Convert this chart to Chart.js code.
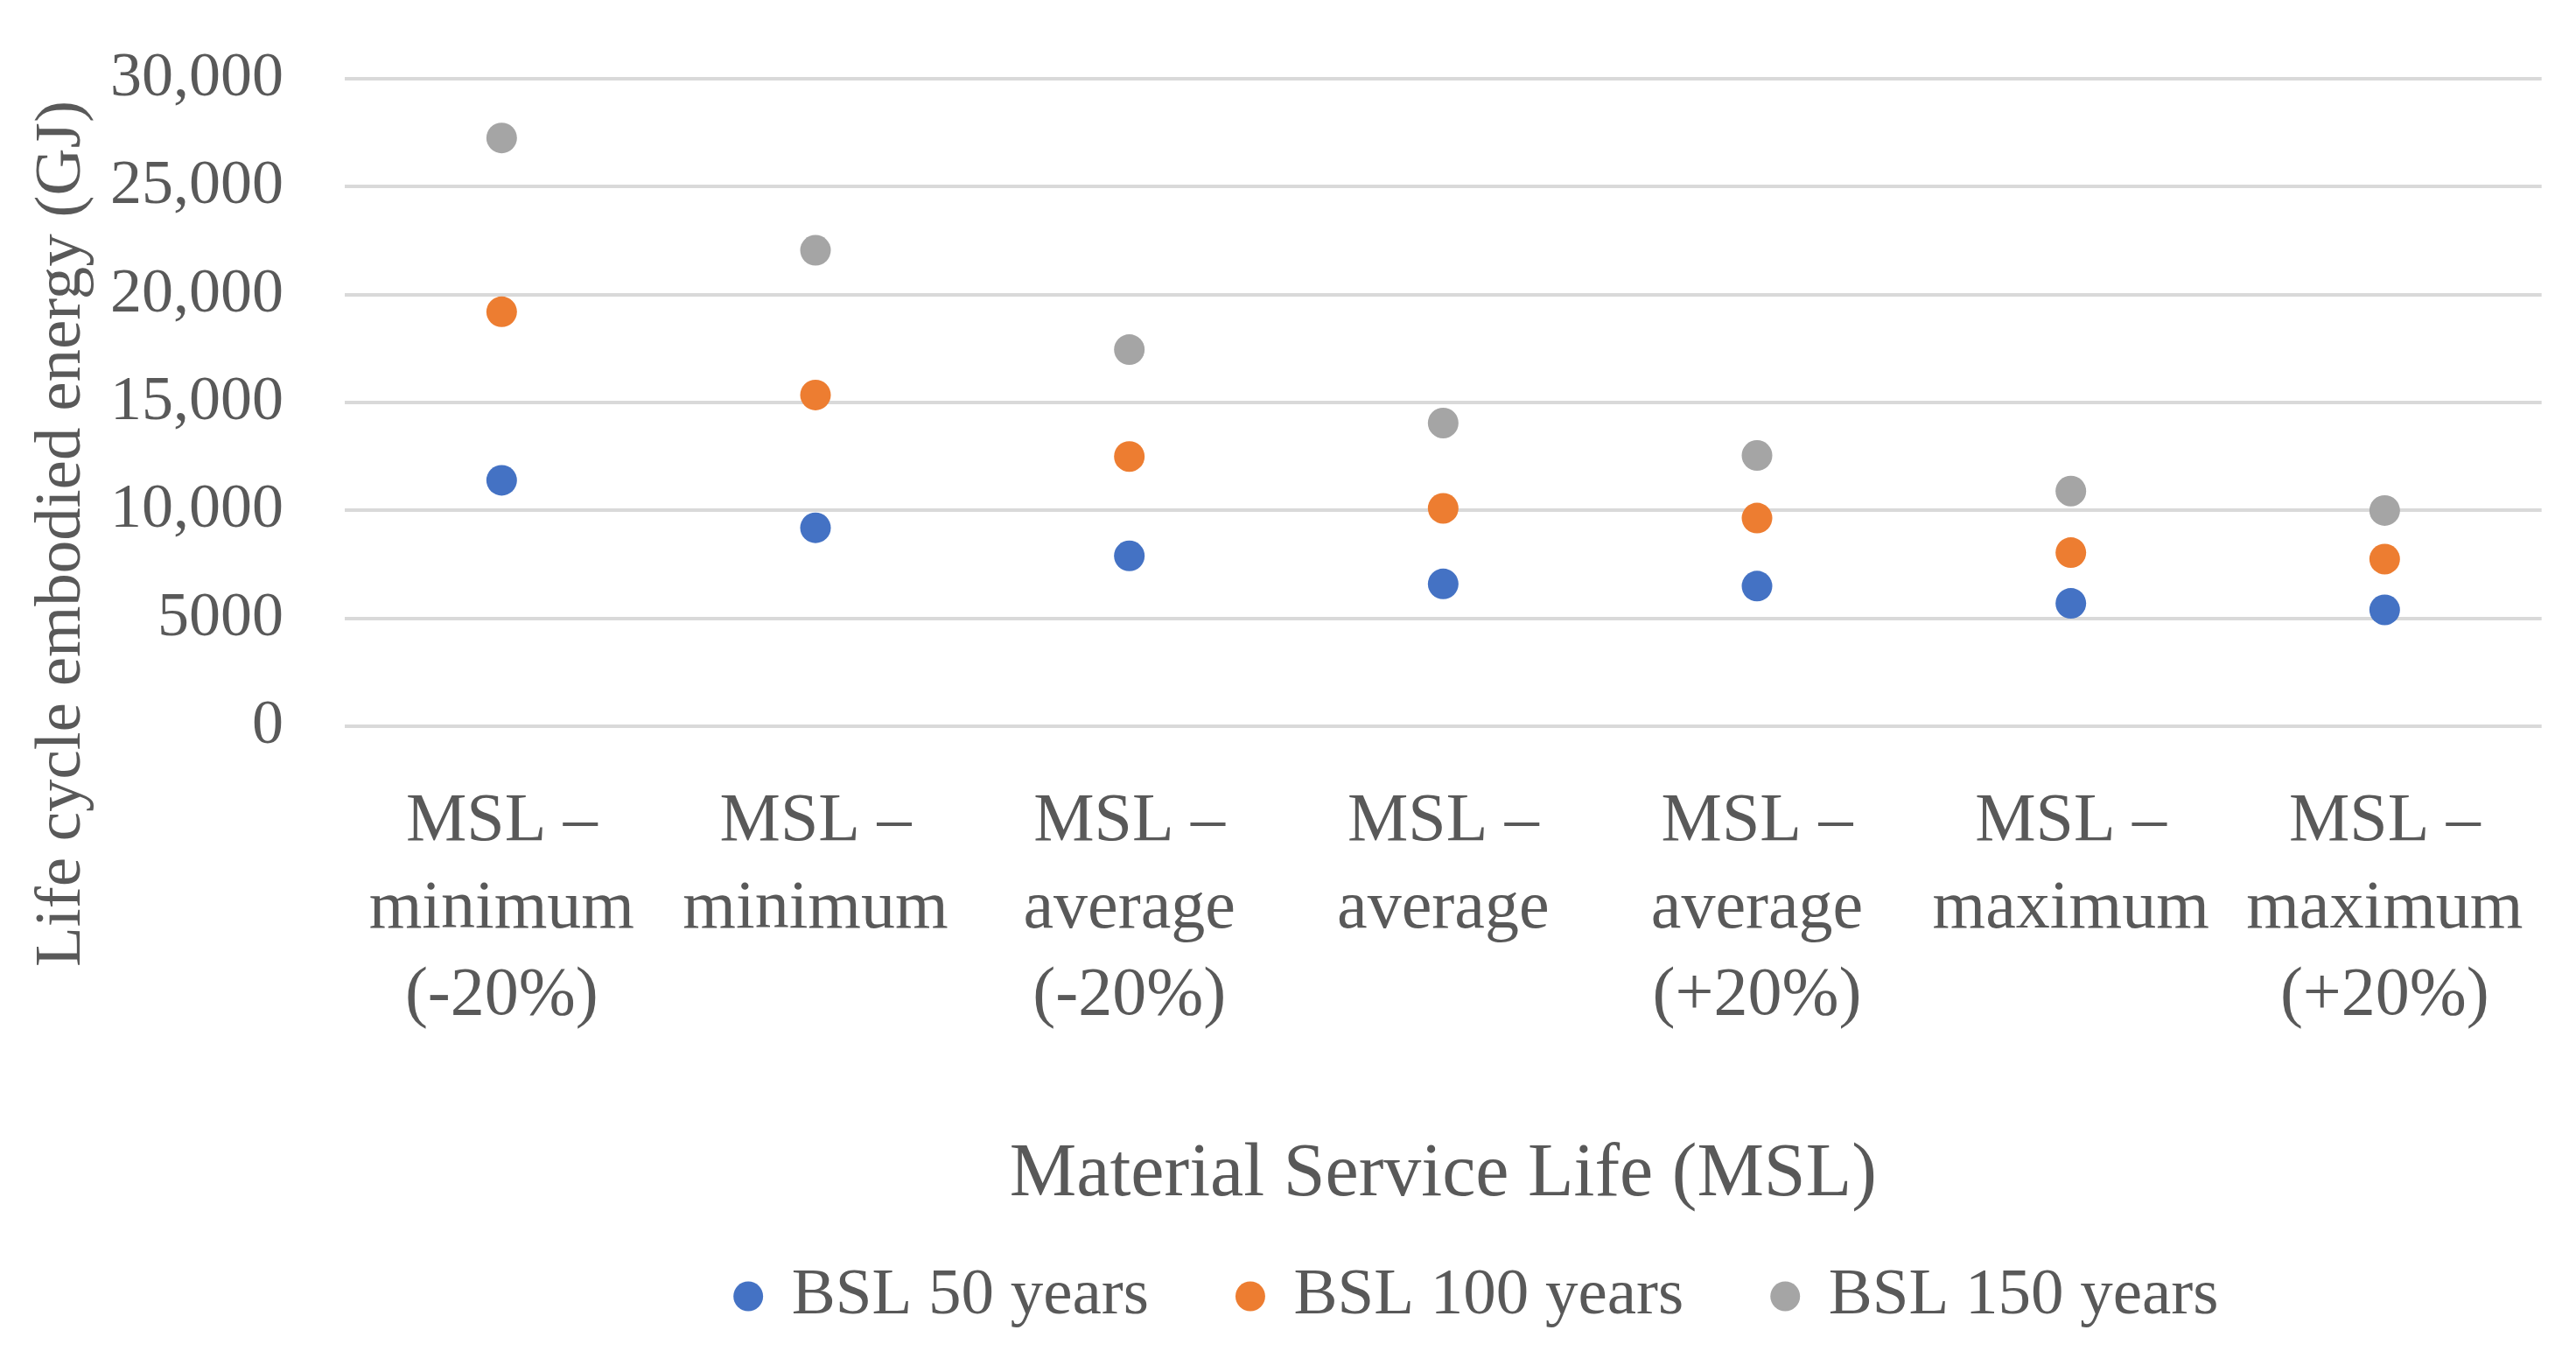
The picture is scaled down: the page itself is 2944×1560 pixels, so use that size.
<!DOCTYPE html>
<html>
<head>
<meta charset="utf-8">
<script src="https://cdn.jsdelivr.net/npm/chart.js@4"></script>
<style>
  html, body { margin: 0; padding: 0; background: #fff; }
  #wrap { width: 2944px; height: 1560px; }
</style>
</head>
<body>
<div id="wrap"><canvas id="myChart"></canvas></div>
<script>
var categories = [
  ["MSL \u2013", "minimum", "(-20%)"],
  ["MSL \u2013", "minimum"],
  ["MSL \u2013", "average", "(-20%)"],
  ["MSL \u2013", "average"],
  ["MSL \u2013", "average", "(+20%)"],
  ["MSL \u2013", "maximum"],
  ["MSL \u2013", "maximum", "(+20%)"]
];
var bsl50 = [11400, 9200, 7900, 6600, 6500, 5700, 5400];
var bsl100 = [19200, 15350, 12500, 10100, 9650, 8050, 7750];
var bsl150 = [27250, 22050, 17450, 14050, 12550, 10900, 10000];
var seriesNames = ["BSL 50 years", "BSL 100 years", "BSL 150 years"];
var yTicks = { min: 0, max: 30000, step: 5000 };

var fontFamily = "'Liberation Serif', 'Times New Roman', serif";
var textColor = "#595959";

var ctx = document.getElementById("myChart").getContext("2d");

function dot(label, values, color) {
  return {
    label: label,
    data: values,
    showLine: false,
    backgroundColor: color,
    borderColor: color,
    borderWidth: 0,
    pointRadius: 17.5,
    pointHoverRadius: 17.5,
    pointStyle: "circle",
  };
}

// trailing nbsp pushes the rotated title down a bit, like the original
var yTitle = "Life cycle embodied energy (GJ)" + "\u00a0".repeat(16);

// legend in the original sits a little right of the plot centre
var nudgeLegend = {
  id: "nudgeLegend",
  afterLayout: function (chart) {
    chart.legend.left += 40;
    chart.legend.right += 40;
  },
};

var config = {
  type: "line",
  data: {
    labels: categories,
    datasets: [
      dot(seriesNames[0], bsl50, "#4472C4"),
      dot(seriesNames[1], bsl100, "#ED7D31"),
      dot(seriesNames[2], bsl150, "#A5A5A5"),
    ],
  },
  plugins: [nudgeLegend],
  options: {
    responsive: true,
    maintainAspectRatio: false,
    animation: false,
    layout: { padding: { left: 20, right: 21, top: 0, bottom: 31 } },
    plugins: {
      tooltip: { enabled: false },
      legend: {
        display: true,
        position: "bottom",
        fullSize: false,
        labels: {
          usePointStyle: true,
          boxWidth: 24,
          boxHeight: 24,
          padding: 104,
          color: textColor,
          font: { family: fontFamily, size: 75 },
        },
      },
    },
    scales: {
      x: {
        offset: true,
        grid: { display: false, drawTicks: false },
        border: { display: false },
        ticks: {
          padding: 59,
          color: textColor,
          maxRotation: 0,
          autoSkip: false,
          font: { family: fontFamily, size: 78, lineHeight: 1.28 },
        },
        title: {
          display: true,
          text: "Material Service Life (MSL)",
          color: textColor,
          padding: { top: 44, bottom: -55 },
          font: { family: fontFamily, size: 86 },
        },
      },
      y: {
        min: yTicks.min,
        max: yTicks.max,
        grid: { color: "#D9D9D9", lineWidth: 4, drawTicks: false },
        border: { display: false },
        ticks: {
          stepSize: yTicks.step,
          padding: 70,
          color: textColor,
          font: { family: fontFamily, size: 72, lineHeight: 0.55 },
          callback: function (v) {
            return v >= 10000 ? v.toLocaleString("en-US") : String(v);
          },
        },
        title: {
          display: true,
          text: yTitle,
          color: textColor,
          padding: { top: 6, bottom: -60 },
          font: { family: fontFamily, size: 75 },
        },
      },
    },
  },
};

var chart = new Chart(ctx, config);
</script>
</body>
</html>
